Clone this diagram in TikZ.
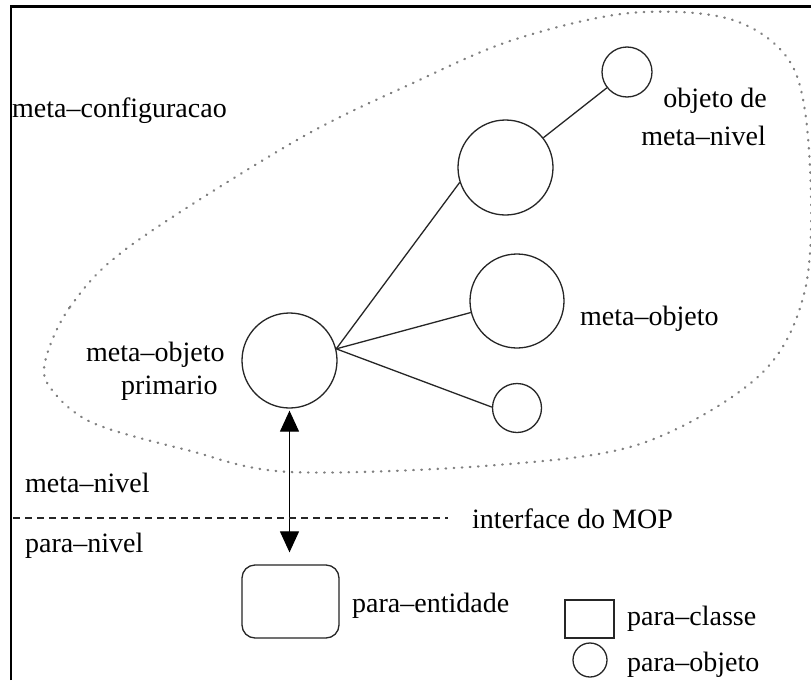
\documentclass[tikz,border=0pt]{standalone}
\usepackage{fontspec}
\setmainfont{Liberation Serif}
\usetikzlibrary{arrows.meta}
\begin{document}
\begin{tikzpicture}[x=1pt,y=-1pt,
  obj/.style={circle,draw=black!85,line width=1.3pt,inner sep=0pt},
  lbl/.style={inner sep=0pt,font=\fontsize{28}{34}\selectfont},
  link/.style={draw=black!85,line width=1.3pt},
  region/.style={draw=black!50,line width=2.3pt,line cap=round,dash pattern=on 0.6pt off 7.5pt},
  level/.style={draw=black!85,line width=1.2pt,dash pattern=on 7pt off 5pt},
  bidir/.style={draw=black,line width=1.2pt,{Triangle[length=21pt,width=19pt]}-{Triangle[length=21pt,width=19pt]}},
]
\useasboundingbox (0,0) rectangle (811,680);
\fill[white] (0,0) rectangle (811,680);

% frame (left and top edges)
\draw[line width=2.8pt] (11,680) -- (11,6.5) -- (811,6.5);

% dotted boundary of the meta-configuration
\draw[region] plot[smooth cycle,tension=0.55] coordinates {
  (45,362) (70,307) (130,246) (297,140) (413,83) (513,40) (630,13)
  (733,20) (793,67) (810,167) (805,290) (760,375) (643,443) (497,465)
  (290,472) (187,450) (93,423) (52,390)};

% objects
\node[obj,minimum size=95pt] (prim)  at (289.5,360.5) {};
\node[obj,minimum size=95pt] (up)    at (505.5,167.5) {};
\node[obj,minimum size=50pt] (topsm) at (627,72) {};
\node[obj,minimum size=94pt] (mo)    at (517,301) {};
\node[obj,minimum size=49pt] (sm)    at (517,408) {};

\draw[link] (prim.14) -- (up.198);
\draw[link] (prim.14) -- (mo.194);
\draw[link] (prim.14) -- (sm.178);
\draw[link] (up) -- (topsm);

% para-level entity
\node[draw=black!85,line width=1.3pt,rounded corners=13pt,minimum width=97pt,
      minimum height=73pt,inner sep=0pt] (ent) at (290.5,601.5) {};
\draw[bidir,shorten <=2pt,shorten >=12pt] (prim.south) -- (prim.south |- ent.north);

% MOP interface line
\coordinate (dl) at (13,518);
\coordinate (dr) at (448,518);
\draw[level] (dl) -- (dr);

% labels
\node[lbl,anchor=base west] (tconf) at (12,117) {meta–configuracao};
\node[lbl,anchor=base east] (tobj1) at (767,107) {objeto de};
\node[lbl,anchor=base east] (tobj2) at (766,145) {meta–nivel};
\node[lbl,anchor=base west] (tmo)   at (580,325) {meta–objeto};
\node[lbl,anchor=base west] (tpr1)  at (86,361) {meta–objeto};
\node[lbl,anchor=base west] (tpr2)  at (121,394) {primario};
\node[lbl,anchor=base west] (tmeta) at (25,492) {meta–nivel};
\node[lbl,anchor=base west] (tpara) at (25,552) {para–nivel};
\node[lbl,anchor=base west] (tmop)  at (472,528) {interface do MOP};
\node[lbl,anchor=base west] (tent)  at (352,612) {para–entidade};

% legend
\node[draw=black!85,line width=1.3pt,minimum width=49pt,minimum height=38pt,
      inner sep=0pt] (lgcls) at (589.5,619) {};
\node[obj,minimum size=34pt] (lgobj) at (590,660) {};
\node[lbl,anchor=base west] (tcls) at (627,625) {para–classe};
\node[lbl,anchor=base west] (tlobj) at (627,671) {para–objeto};
\end{tikzpicture}
\end{document}
